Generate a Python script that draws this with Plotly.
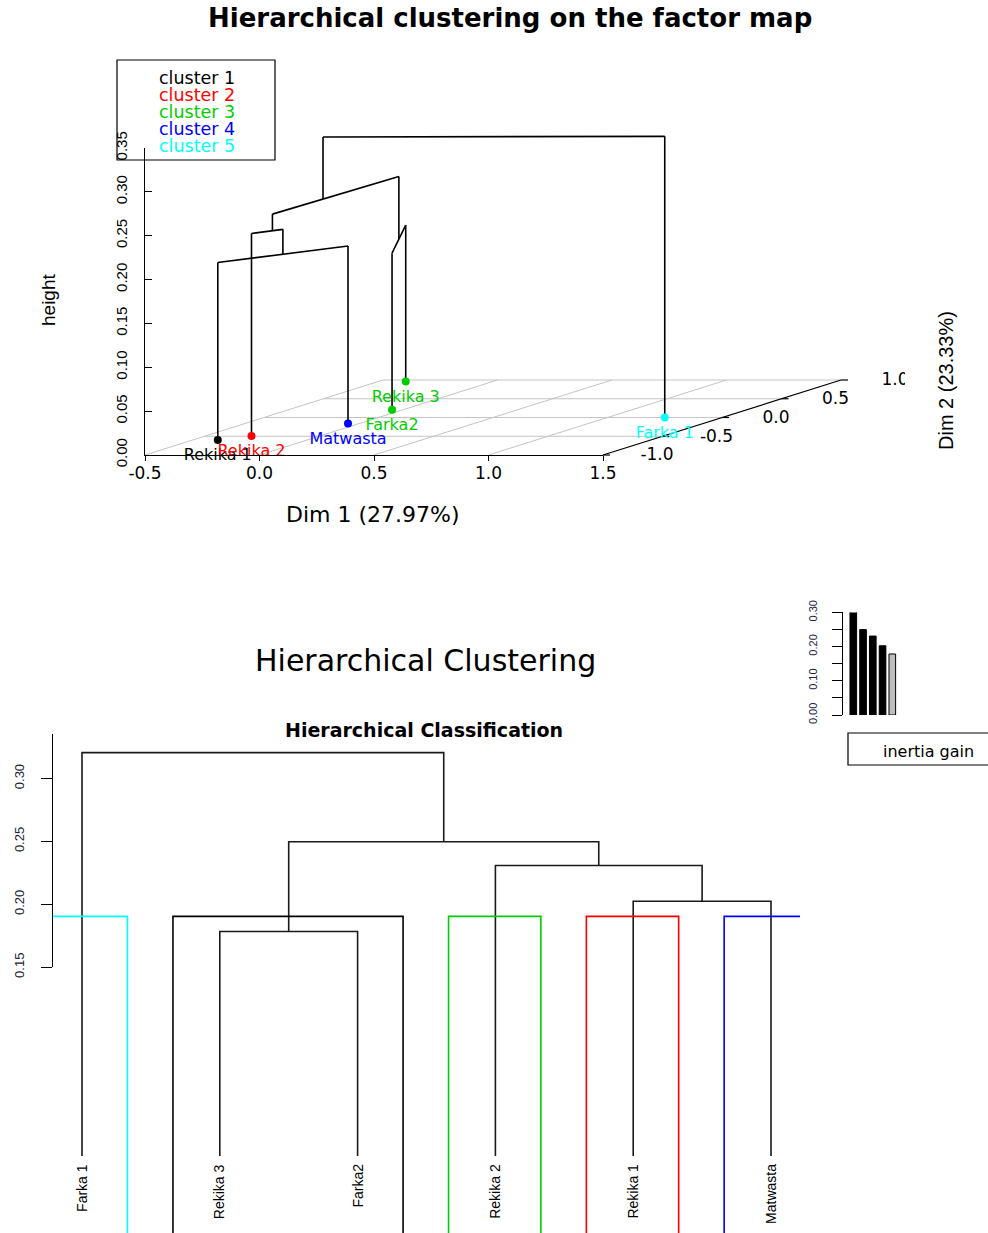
import plotly.graph_objects as go

# ---------------- data ----------------
ind_names = ["Rekika 1", "Rekika 2", "Matwasta", "Farka2", "Rekika 3", "Farka 1"]
dim1_coord = [-0.39, -0.30, -0.05, -0.05, -0.38, 1.25]
dim2_coord = [-0.60, -0.49, -0.16, 0.21, 0.96, 0.00]
ind_cluster = [1, 2, 4, 3, 3, 5]

# agglomeration steps (hclust convention: negative = individual, positive = earlier step)
merge_a = [-5, -1, -2, 1, -6]
merge_b = [-4, -3, 2, 3, 4]
merge_height = [0.1784, 0.2024, 0.2308, 0.2497, 0.3206]
n_clusters = 5

cluster_names = ["cluster 1", "cluster 2", "cluster 3", "cluster 4", "cluster 5"]
cluster_colors = ["#000000", "#FF0000", "#00CD00", "#0000FF", "#00FFFF"]
rect_colors = ["#00FFFF", "#000000", "#00CD00", "#FF0000", "#0000FF"]

dim1_ticks = [-0.5, 0.0, 0.5, 1.0, 1.5]
dim2_ticks = [-1.0, -0.5, 0.0, 0.5, 1.0]
height_ticks = [0.00, 0.05, 0.10, 0.15, 0.20, 0.25, 0.30, 0.35]
tree_ticks = [0.15, 0.20, 0.25, 0.30]
gain_ticks = [0.00, 0.05, 0.10, 0.15, 0.20, 0.25, 0.30]
gain_tick_labels = ["0.00", "", "0.10", "", "0.20", "", "0.30"]

# ---------------- page geometry ----------------
W, H = 988, 1233
WIDE = "DejaVu Sans"
ARIAL = "Liberation Sans"


def fx(px):
    return px / W


def fy(py):
    return 1 - py / H


# ---------------- tree structure ----------------
n_ind = len(ind_names)
members, height_of = {}, {}
for i in range(n_ind):
    members[-(i + 1)] = [i]
    height_of[-(i + 1)] = 0.0
for k, (a, b, h) in enumerate(zip(merge_a, merge_b, merge_height)):
    members[k + 1] = members[a] + members[b]
    height_of[k + 1] = h

# ---------------- top panel: oblique 3D projection ----------------
ORIGIN = (145.0, 455.0)          # screen point of (Dim1 min, Dim2 min, height 0)
PX_D1 = 229.0                    # px per unit of Dim 1
PX_H = 877.0                     # px per unit of height
DEPTH = (119.0, 37.5)            # screen shift per unit of Dim 2
D1_MIN, D1_MAX = -0.5, 1.5
D2_MIN, D2_MAX = -1.0, 1.0
H_MAX = 0.35


def project(d1, d2, h):
    u = d1 + DEPTH[0] / PX_D1 * (d2 - D2_MIN)
    v = h + DEPTH[1] / PX_H * (d2 - D2_MIN)
    return u, v


def u_at(px):
    return D1_MIN + (px - ORIGIN[0]) / PX_D1


def v_at(py):
    return (ORIGIN[1] - py) / PX_H


def centroid(key):
    idx = members[key]
    return (sum(dim1_coord[i] for i in idx) / len(idx),
            sum(dim2_coord[i] for i in idx) / len(idx))


def add_seg(xs, ys, p, q):
    xs += [p[0], q[0], None]
    ys += [p[1], q[1], None]


fig = go.Figure()

# base plane grid
gx, gy = [], []
for t in dim1_ticks[:-1]:
    add_seg(gx, gy, project(t, D2_MIN, 0), project(t, D2_MAX, 0))
for t in dim2_ticks[1:]:
    add_seg(gx, gy, project(D1_MIN, t, 0), project(D1_MAX, t, 0))
fig.add_trace(go.Scatter(x=gx, y=gy, mode="lines", line=dict(color="#C4C4C4", width=1),
                         hoverinfo="skip", xaxis="x", yaxis="y"))

# Dim 2 axis on the right side of the plane
ax, ay = [], []
add_seg(ax, ay, project(D1_MAX, D2_MIN, 0), project(D1_MAX, D2_MAX, 0))
for t in dim2_ticks:
    p = project(D1_MAX, t, 0)
    add_seg(ax, ay, p, (p[0] + 7 / PX_D1, p[1]))
fig.add_trace(go.Scatter(x=ax, y=ay, mode="lines", line=dict(color="black", width=1.2),
                         hoverinfo="skip", xaxis="x", yaxis="y"))
lab = [project(D1_MAX, t, 0) for t in dim2_ticks]
fig.add_trace(go.Scatter(x=[p[0] + 54 / PX_D1 for p in lab], y=[p[1] - 1 / PX_H for p in lab],
                         mode="text", text=[f"{t:.1f}" for t in dim2_ticks],
                         textposition="middle center", cliponaxis=True,
                         textfont=dict(family=WIDE, size=17, color="black"),
                         hoverinfo="skip", xaxis="x", yaxis="y"))

# tree drawn over the factor map
tx, ty = [], []
for k, (a, b, h) in enumerate(zip(merge_a, merge_b, merge_height)):
    ca, cb = centroid(a), centroid(b)
    add_seg(tx, ty, project(ca[0], ca[1], height_of[a]), project(ca[0], ca[1], h))
    add_seg(tx, ty, project(cb[0], cb[1], height_of[b]), project(cb[0], cb[1], h))
    add_seg(tx, ty, project(ca[0], ca[1], h), project(cb[0], cb[1], h))
fig.add_trace(go.Scatter(x=tx, y=ty, mode="lines", line=dict(color="black", width=1.6),
                         hoverinfo="skip", xaxis="x", yaxis="y"))

# individuals
pts = [project(d1, d2, 0) for d1, d2 in zip(dim1_coord, dim2_coord)]
pcol = [cluster_colors[c - 1] for c in ind_cluster]
fig.add_trace(go.Scatter(x=[p[0] for p in pts], y=[p[1] for p in pts], mode="markers",
                         marker=dict(size=8, color=pcol), hoverinfo="skip",
                         xaxis="x", yaxis="y"))
# names of the individuals, set just below their points
fig.add_trace(go.Scatter(x=[p[0] for p in pts], y=[p[1] - 16 / PX_H for p in pts],
                         mode="text", text=ind_names, textposition="middle center",
                         textfont=dict(family=WIDE, size=16, color=pcol),
                         hoverinfo="skip", xaxis="x", yaxis="y"))

# empty trace so the front axes of the factor map are drawn
fig.add_trace(go.Scatter(x=[None], y=[None], mode="lines", hoverinfo="skip",
                         xaxis="x3", yaxis="y3"))

# ---------------- bottom panel: dendrogram ----------------
TREE_L, TREE_R = 53.0, 800.0
TREE_T, TREE_B = 734.0, 1233.0
LEAF1_PX, LEAF_STEP = 82.0, 137.8
H0_PX, PX_TREE_H = 1155.9, 1258.0


def tree_h_at(py):
    return (H0_PX - py) / PX_TREE_H


def leaf_order(key):
    if key < 0:
        return [-key - 1]
    return leaf_order(merge_a[key - 1]) + leaf_order(merge_b[key - 1])


order = leaf_order(len(merge_height))
xpos = {}
for pos, i in enumerate(order):
    xpos[-(i + 1)] = pos + 1
for k, (a, b) in enumerate(zip(merge_a, merge_b)):
    xpos[k + 1] = (xpos[a] + xpos[b]) / 2

dx, dy = [], []
for k, (a, b, h) in enumerate(zip(merge_a, merge_b, merge_height)):
    dx += [xpos[a], xpos[a], xpos[b], xpos[b], None]
    dy += [height_of[a], h, h, height_of[b], None]
fig.add_trace(go.Scatter(x=dx, y=dy, mode="lines", line=dict(color="#1a1a1a", width=1.6),
                         hoverinfo="skip", xaxis="x2", yaxis="y2"))

y2_min = tree_h_at(TREE_B)
y2_max = tree_h_at(TREE_T)
hs = sorted(merge_height)
cut = (hs[n_ind - n_clusters - 1] + hs[n_ind - n_clusters]) / 2
groups = []
for pos, i in enumerate(order):
    if groups and ind_cluster[order[pos - 1]] == ind_cluster[i]:
        groups[-1][1] = pos + 1
    else:
        groups.append([pos + 1, pos + 1])
for (g0, g1), col in zip(groups, rect_colors):
    x0, x1 = g0 - 0.34, g1 + 0.33
    fig.add_trace(go.Scatter(x=[x0, x0, x1, x1], y=[y2_min - 0.05, cut, cut, y2_min - 0.05],
                             mode="lines", line=dict(color=col, width=1.6),
                             hoverinfo="skip", xaxis="x2", yaxis="y2"))

# empty trace so the dendrogram's height axis is drawn
fig.add_trace(go.Scatter(x=[None], y=[None], mode="lines", hoverinfo="skip",
                         xaxis="x5", yaxis="y5"))

annotations = []
for pos, i in enumerate(order):
    annotations.append(dict(x=pos + 1, y=0, xref="x2", yref="y2", text=ind_names[i],
                            textangle=-90, showarrow=False, xanchor="center", yanchor="top",
                            yshift=-6, font=dict(family=ARIAL, size=14, color="black")))

# ---------------- inset: inertia gain ----------------
inertia_gain = sorted(merge_height, reverse=True)
BAR1_PX, BAR_STEP = 853.3, 9.75
GAIN_L, GAIN_R = 843.0, 900.0
GAIN_B, PX_GAIN = 715.0, 342.0
bar_cols = ["black"] * (n_clusters - 1) + ["#BEBEBE"]
fig.add_trace(go.Bar(x=list(range(1, len(inertia_gain) + 1)), y=inertia_gain, width=0.68,
                     marker=dict(color=bar_cols, line=dict(color="black", width=1)),
                     cliponaxis=False, hoverinfo="skip", xaxis="x4", yaxis="y4"))

# ---------------- text ----------------
annotations += [
    dict(x=fx(510), y=fy(18), xref="paper", yref="paper", showarrow=False,
         xanchor="center", yanchor="middle",
         text="<b>Hierarchical clustering on the factor map</b>",
         font=dict(family=WIDE, size=26, color="black")),
    dict(x=fx(48), y=fy(300), xref="paper", yref="paper", showarrow=False, text="height",
         xanchor="center", yanchor="middle",
         textangle=-90, font=dict(family=ARIAL, size=19, color="black")),
    dict(x=fx(373), y=fy(514), xref="paper", yref="paper", showarrow=False,
         xanchor="center", yanchor="middle",
         text="Dim 1 (27.97%)", font=dict(family=WIDE, size=22, color="black")),
    dict(x=fx(946), y=fy(381), xref="paper", yref="paper", showarrow=False,
         xanchor="center", yanchor="middle",
         text="Dim 2 (23.33%)", textangle=-90,
         font=dict(family=ARIAL, size=20, color="black")),
    dict(x=fx(425), y=fy(660), xref="paper", yref="paper", showarrow=False,
         xanchor="center", yanchor="middle",
         text="Hierarchical Clustering", font=dict(family=WIDE, size=30, color="black")),
    dict(x=fx(424), y=fy(730), xref="paper", yref="paper", showarrow=False,
         xanchor="center", yanchor="middle",
         text="<b>Hierarchical Classification</b>",
         font=dict(family=WIDE, size=19, color="black")),
    dict(x=fx(928), y=fy(751), xref="paper", yref="paper", showarrow=False,
         xanchor="center", yanchor="middle",
         text="inertia gain", font=dict(family=WIDE, size=16, color="black")),
]
for i, (name, col) in enumerate(zip(cluster_names, cluster_colors)):
    annotations.append(dict(x=fx(157), y=fy(78 + 17 * i), xref="paper", yref="paper",
                            showarrow=False, text=name, xanchor="left", yanchor="middle",
                            font=dict(family=WIDE, size=17.5, color=col)))

shapes = [
    dict(type="rect", xref="paper", yref="paper", x0=fx(117), x1=fx(275),
         y0=fy(160), y1=fy(60), line=dict(color="black", width=1.2)),
    dict(type="rect", xref="paper", yref="paper", x0=fx(848), x1=fx(1010),
         y0=fy(765), y1=fy(733), line=dict(color="black", width=1.2)),
]

hidden = dict(visible=False, showgrid=False, zeroline=False)
fig.update_layout(
    width=W, height=H, margin=dict(l=0, r=0, t=0, b=0, autoexpand=False),
    paper_bgcolor="white", plot_bgcolor="rgba(0,0,0,0)", showlegend=False,
    annotations=annotations, shapes=shapes,
    # projection space of the factor map
    xaxis=dict(domain=[0, fx(905)], range=[u_at(0), u_at(905)], anchor="y", **hidden),
    yaxis=dict(domain=[fy(540), fy(100)], range=[v_at(540), v_at(100)], anchor="x", **hidden),
    # front axes of the factor map
    xaxis3=dict(domain=[fx(ORIGIN[0]), fx(ORIGIN[0] + PX_D1 * (D1_MAX - D1_MIN))],
                range=[D1_MIN, D1_MAX], anchor="y3", showgrid=False, zeroline=False,
                showline=True, linecolor="black", linewidth=1.2, ticks="outside", ticklen=5,
                tickcolor="black", tickvals=dim1_ticks, ticklabelstandoff=-3,
                ticktext=[f"{t:.1f}" for t in dim1_ticks],
                tickfont=dict(family=WIDE, size=17, color="black")),
    yaxis3=dict(domain=[fy(ORIGIN[1]), fy(ORIGIN[1] - PX_H * H_MAX)], range=[0, H_MAX],
                anchor="x3", showgrid=False, zeroline=False, showline=True,
                linecolor="black", linewidth=1.2, ticks="inside", ticklen=7, tickcolor="black",
                tickvals=height_ticks, ticktext=[f"{t:.2f}" for t in height_ticks],
                tickangle=-90, ticklabelstandoff=11,
                tickfont=dict(family=ARIAL, size=15, color="black")),
    # dendrogram
    xaxis2=dict(domain=[fx(TREE_L), fx(TREE_R)],
                range=[1 - (LEAF1_PX - TREE_L) / LEAF_STEP, 1 + (TREE_R - LEAF1_PX) / LEAF_STEP],
                anchor="y2", **hidden),
    yaxis2=dict(domain=[fy(TREE_B), fy(TREE_T)], range=[y2_min, y2_max], anchor="x2", **hidden),
    xaxis5=dict(domain=[fx(TREE_L), fx(TREE_R)], range=[0, 1], anchor="y5", **hidden),
    yaxis5=dict(domain=[fy(H0_PX - PX_TREE_H * tree_ticks[0]), fy(TREE_T)],
                range=[tree_ticks[0], y2_max], anchor="x5", showgrid=False, zeroline=False,
                showline=True, linecolor="black", linewidth=1.3, ticks="outside", ticklen=11,
                tickcolor="black", tickvals=tree_ticks,
                ticktext=[f"{t:.2f}" for t in tree_ticks], tickangle=-90,
                ticklabelstandoff=12, tickfont=dict(family=ARIAL, size=13, color="#222233")),
    # inertia gain inset
    xaxis4=dict(domain=[fx(GAIN_L), fx(GAIN_R)],
                range=[1 - (BAR1_PX - GAIN_L) / BAR_STEP, 1 + (GAIN_R - BAR1_PX) / BAR_STEP],
                anchor="y4", **hidden),
    yaxis4=dict(domain=[fy(GAIN_B), fy(GAIN_B - PX_GAIN * gain_ticks[-1])],
                range=[0, gain_ticks[-1]], anchor="x4", showgrid=False, zeroline=False,
                showline=True, linecolor="black", linewidth=1.3, ticks="outside", ticklen=10,
                tickcolor="black", tickvals=gain_ticks, ticktext=gain_tick_labels,
                tickangle=-90, ticklabelstandoff=10,
                tickfont=dict(family=ARIAL, size=11, color="#222244")),
)

fig.write_html("out.html")
